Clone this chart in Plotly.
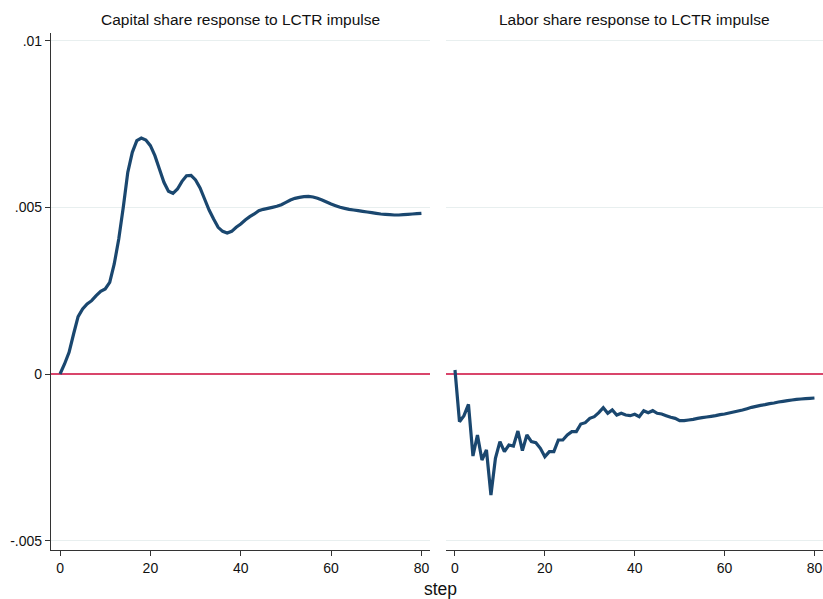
import plotly.graph_objects as go

# Impulse-response steps
steps = list(range(0, 81))

# Capital share response to LCTR impulse
capital_share = [
    0.00000, 0.00030, 0.00065, 0.00120, 0.00172, 0.00195, 0.00210, 0.00220, 0.00235, 0.00248,
    0.00255, 0.00275, 0.00330, 0.00405, 0.00500, 0.00605, 0.00665, 0.00700, 0.00708, 0.00702,
    0.00685, 0.00655, 0.00615, 0.00575, 0.00548, 0.00542, 0.00555, 0.00578, 0.00595, 0.00596,
    0.00582, 0.00558, 0.00525, 0.00492, 0.00465, 0.00440, 0.00428, 0.00423, 0.00428, 0.00440,
    0.00450, 0.00462, 0.00472, 0.00480, 0.00490, 0.00494, 0.00497, 0.00500, 0.00503, 0.00508,
    0.00515, 0.00522, 0.00527, 0.00530, 0.00532, 0.00533, 0.00531, 0.00527, 0.00522, 0.00516,
    0.00510, 0.00505, 0.00500, 0.00497, 0.00494, 0.00492, 0.00490, 0.00488, 0.00486, 0.00484,
    0.00482, 0.00480, 0.00479, 0.00478, 0.00477, 0.00477, 0.00478, 0.00479, 0.00480, 0.00481,
    0.00482,
]

# Labor share response to LCTR impulse
labor_share = [
    0.00012, -0.00143, -0.00125, -0.00091, -0.00246, -0.00183, -0.00258, -0.00228, -0.00363, -0.00253,
    -0.00203, -0.00233, -0.00213, -0.00216, -0.00171, -0.00230, -0.00183, -0.00203, -0.00206, -0.00223,
    -0.00248, -0.00233, -0.00233, -0.00198, -0.00198, -0.00183, -0.00173, -0.00173, -0.00150, -0.00146,
    -0.00133, -0.00128, -0.00116, -0.00101, -0.00118, -0.00108, -0.00123, -0.00118, -0.00123, -0.00125,
    -0.00121, -0.00128, -0.00110, -0.00116, -0.00110, -0.00118, -0.00120, -0.00125, -0.00130, -0.00133,
    -0.00140, -0.00140, -0.00138, -0.00136, -0.00133, -0.00131, -0.00129, -0.00127, -0.00125, -0.00122,
    -0.00120, -0.00117, -0.00114, -0.00111, -0.00108, -0.00104, -0.00100, -0.00097, -0.00094, -0.00092,
    -0.00089, -0.00087, -0.00084, -0.00082, -0.00080, -0.00078, -0.00076, -0.00075, -0.00074, -0.00073,
    -0.00072,
]

panel_titles = ["Capital share response to LCTR impulse", "Labor share response to LCTR impulse"]
x_ticks = [0, 20, 40, 60, 80]
y_ticks = [-0.005, 0, 0.005, 0.01]
y_tick_labels = ["-.005", "0", ".005", ".01"]
reference_level = 0.0

LINE = "#1a476f"
REF = "#d9456b"
GRID = "#e8efef"
AXIS = "#333333"
FONT = "Liberation Sans Narrow, Arial Narrow, Liberation Sans, Arial, sans-serif"
TFONT = "Liberation Sans, Arial, sans-serif"

xr = [-2.0, 81.9]
yr = [-0.00528, 0.01023]
ydom = [1 - 550 / 599, 1 - 33 / 599]

fig = go.Figure()
# Zero reference lines first so the responses sit on top of them
for xa, ya in [("x", "y"), ("x2", "y2")]:
    fig.add_trace(go.Scatter(x=xr, y=[reference_level, reference_level], mode="lines",
                             line=dict(color=REF, width=1.8), xaxis=xa, yaxis=ya,
                             hoverinfo="skip", showlegend=False))
fig.add_trace(go.Scatter(x=steps, y=capital_share, mode="lines",
                         line=dict(color=LINE, width=3.2, simplify=False),
                         xaxis="x", yaxis="y", showlegend=False))
fig.add_trace(go.Scatter(x=steps, y=labor_share, mode="lines",
                         line=dict(color=LINE, width=3.2, simplify=False),
                         xaxis="x2", yaxis="y2", showlegend=False))

xcommon = dict(range=xr, tickvals=x_ticks, ticks="outside", ticklen=5, tickcolor=AXIS,
               showline=True, linecolor=AXIS, linewidth=1.2, showgrid=False, zeroline=False,
               tickfont=dict(family=FONT, size=14, color="#111111"))

fig.update_layout(
    width=823, height=599,
    margin=dict(l=0, r=0, t=0, b=0),
    paper_bgcolor="white", plot_bgcolor="white",
    xaxis=dict(domain=[51 / 823, 430 / 823], anchor="y", **xcommon),
    xaxis2=dict(domain=[446 / 823, 1.0], anchor="y2", **xcommon),
    yaxis=dict(domain=ydom, range=yr, tickvals=y_ticks, ticktext=y_tick_labels,
               ticks="outside", ticklen=5, tickcolor=AXIS, showline=True, linecolor=AXIS,
               linewidth=1.2, showgrid=True, gridcolor=GRID, gridwidth=1, zeroline=False,
               tickfont=dict(family=FONT, size=14, color="#111111")),
    yaxis2=dict(domain=ydom, range=yr, anchor="x2", tickvals=y_ticks, showticklabels=False,
                ticks="", showline=False, showgrid=True, gridcolor=GRID, gridwidth=1,
                zeroline=False),
)

# Panel titles and common x-axis title
fig.add_annotation(text=panel_titles[0], x=(51 + 430) / 2 / 823, y=1 - 20 / 599,
                   xref="paper", yref="paper", xanchor="center", yanchor="middle",
                   showarrow=False, font=dict(family=TFONT, size=15.5, color="#111111"))
fig.add_annotation(text=panel_titles[1], x=(446 + 823) / 2 / 823, y=1 - 20 / 599,
                   xref="paper", yref="paper", xanchor="center", yanchor="middle",
                   showarrow=False, font=dict(family=TFONT, size=15.5, color="#111111"))
fig.add_annotation(text="step", x=440 / 823, y=1 - 589 / 599, xref="paper", yref="paper",
                   xanchor="center", yanchor="middle", showarrow=False,
                   font=dict(family=FONT, size=17.5, color="#111111"))

fig.write_html("out.html")
